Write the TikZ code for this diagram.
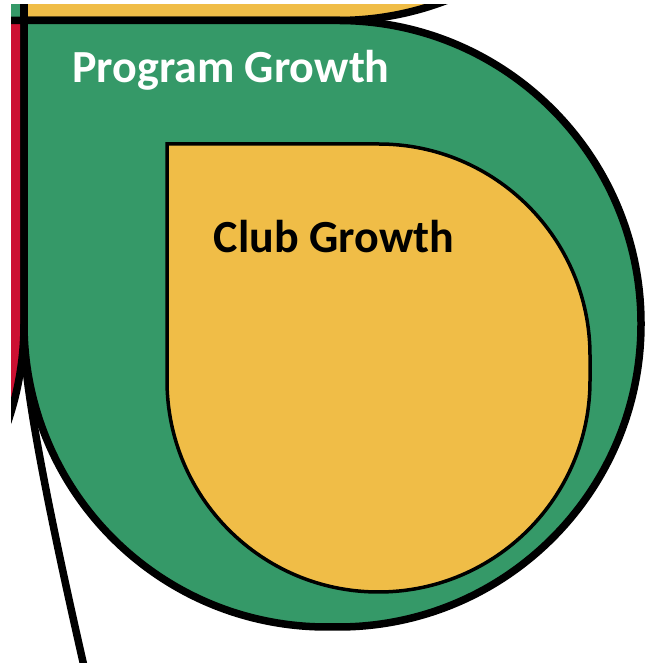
\documentclass[tikz,border=0pt]{standalone}
\usepackage{fontspec}
\setmainfont{Carlito}
\usepackage{tikz}
\usetikzlibrary{positioning}

\definecolor{petalgreen}{RGB}{53,153,104}
\definecolor{petalyellow}{RGB}{240,189,71}
\definecolor{petalred}{RGB}{204,16,50}

\begin{document}
\begin{tikzpicture}[x=1pt,y=1pt,
        petal/.style={draw=black,line width=7.5pt,line join=round},
        inner petal/.style={draw=black,line width=3.5pt,fill=petalyellow},
        label/.style={font=\fontsize{46}{50}\selectfont\bfseries,inner sep=0pt,anchor=base}]
        \useasboundingbox (0,0) rectangle (648,663);
        \fill[white] (0,0) rectangle (648,663);
        \clip (11,0) rectangle (648,658);

        % neighbouring petals, mostly out of view
        \path[petal,fill=petalgreen] (24,642.5) -- (-300,642.5) -- (-300,1000) -- (24,1000) -- cycle;
        \path[petal,fill=petalyellow] (24,642.5) -- (338,642.5)
            arc[start angle=-90,end angle=0,radius=303] -- (641,1000) -- (24,1000) -- cycle;
        \path[petal,fill=petalred] (24,642.5) -- (24,339)
            arc[start angle=0,end angle=-90,radius=303] -- (-279,642.5) -- cycle;

        % program petal
        \path[petal,fill=petalgreen] (24,642.5) -- (338,642.5)
            arc[start angle=90,end angle=0,radius=303] -- (641,339)
            arc[start angle=0,end angle=-90,radius=303] -- (327,36)
            arc[start angle=-90,end angle=-180,radius=303] -- cycle;

        % club petal
        \path[inner petal] (167,519) -- (378.5,519)
            arc[start angle=90,end angle=0,radius=211.5] -- (590,282.5)
            arc[start angle=0,end angle=-90,radius=211.5]
            arc[start angle=-90,end angle=-180,radius=211.5] -- cycle;

        \coordinate (stem top) at (24,320);
        \coordinate (stem end) at (86,-12);
        \draw[line width=7.5pt] (stem top) .. controls (26,260) and (58,110) .. (stem end);

        \node[label,text=white] (program) at (231,580) {Program Growth};
        \node[label,text=black] (club) at (334,410) {Club Growth};
\end{tikzpicture}
\end{document}
